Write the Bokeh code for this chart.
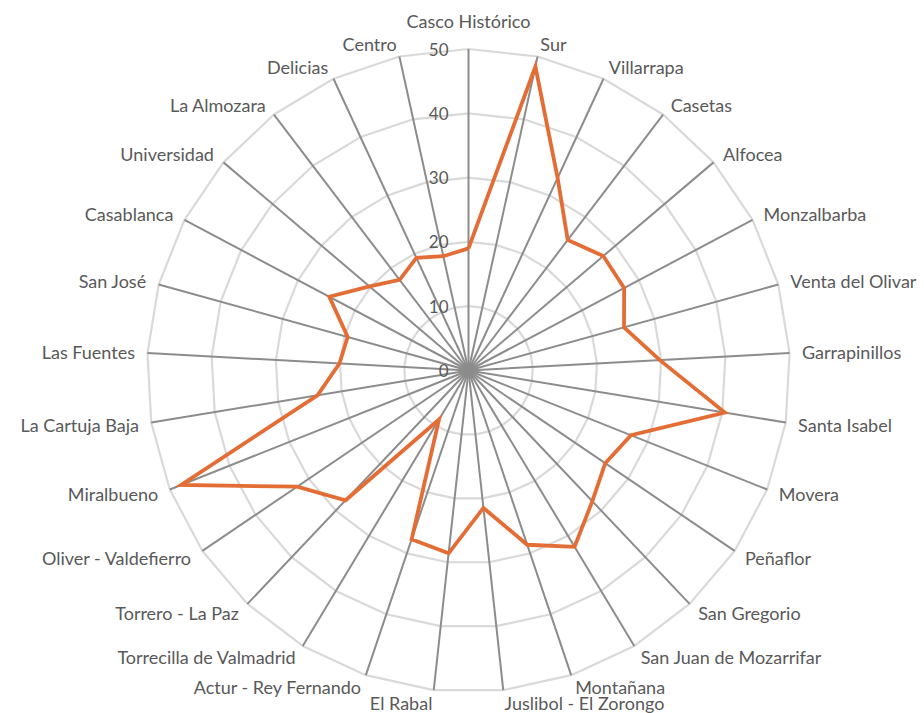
import numpy as np
from bokeh.plotting import figure
from bokeh.models import Range1d, ColumnDataSource
from bokeh.embed import file_html
from bokeh.resources import INLINE
from bokeh.core.properties import value

categories = [
    "Casco Histórico", "Sur", "Villarrapa", "Casetas", "Alfocea", "Monzalbarba",
    "Venta del Olivar", "Garrapinillos", "Santa Isabel", "Movera", "Peñaflor",
    "San Gregorio", "San Juan de Mozarrifar", "Montañana", "Juslibol - El Zorongo",
    "El Rabal", "Actur - Rey Fernando", "Torrecilla de Valmadrid", "Torrero - La Paz",
    "Oliver - Valdefierro", "Miralbueno", "La Cartuja Baja", "Las Fuentes",
    "San José", "Casablanca", "Universidad", "La Almozara", "Delicias", "Centro",
]
values = [
    19.0, 48.4, 33.0, 25.5, 27.5, 27.4, 25.1, 29.8, 40.4, 27.2, 25.7, 28.0, 32.0,
    28.6, 21.5, 28.6, 27.7, 8.9, 27.8, 32.2, 48.1, 23.8, 20.1, 19.5, 24.5, 20.2,
    17.7, 19.3, 18.2,
]
ticks = [0, 10, 20, 30, 40, 50]
tick_labels = ["0", "10", "20", "30", "40", "50"]

FONT = "Lato"
TXT = "#595959"
W, H = 924, 713
K = 6.43         # pixels per value unit
CX, CY = 468, 370
RMAX = ticks[-1]

p = figure(width=W, height=H, output_backend="svg", toolbar_location=None,
           x_range=Range1d(-CX / K, (W - CX) / K),
           y_range=Range1d(-(H - CY) / K, CY / K),
           x_axis_type=None, y_axis_type=None, min_border=0)
p.outline_line_color = None
p.background_fill_color = "white"

n = len(categories)
theta = 2 * np.pi * np.arange(n) / n
s, c = np.sin(theta), np.cos(theta)

# grid polygons
gx, gy = [], []
for t in ticks[1:]:
    gx.append(list(t * s) + [t * s[0]])
    gy.append(list(t * c) + [t * c[0]])
p.multi_line(gx, gy, line_color="#D9D9D9", line_width=2.2)

# spokes
p.segment(x0=np.zeros(n), y0=np.zeros(n), x1=RMAX * s, y1=RMAX * c,
          line_color="#8C8C8C", line_width=2)

# data line
v = np.array(values)
xs = list(v * s) + [v[0] * s[0]]
ys = list(v * c) + [v[0] * c[0]]
p.line(xs, ys, line_color="#E46D36", line_width=3.8, line_join="miter")

# radial tick labels
p.text(x=np.zeros(len(ticks)), y=ticks, text=tick_labels, x_offset=-20,
       text_align="right", text_baseline="middle", text_font=value(FONT),
       text_font_size="17px", text_color=TXT)

# category labels
pad = 12.5
ox = pad * s
oy = -pad * c
oy[0] = -28.0
groups = {"left": s > 0.05, "right": s < -0.05, "center": np.abs(s) <= 0.05}
for align, mask in groups.items():
    idx = np.where(mask)[0]
    src = ColumnDataSource(dict(
        x=RMAX * s[idx], y=RMAX * c[idx],
        t=[categories[i] for i in idx], ox=ox[idx], oy=oy[idx]))
    p.text(x="x", y="y", text="t", x_offset="ox", y_offset="oy", source=src,
           text_align=align, text_baseline="middle", text_font=value(FONT),
           text_font_size="18px", text_color=TXT)

open("out.html", "w").write(file_html(p, INLINE))
